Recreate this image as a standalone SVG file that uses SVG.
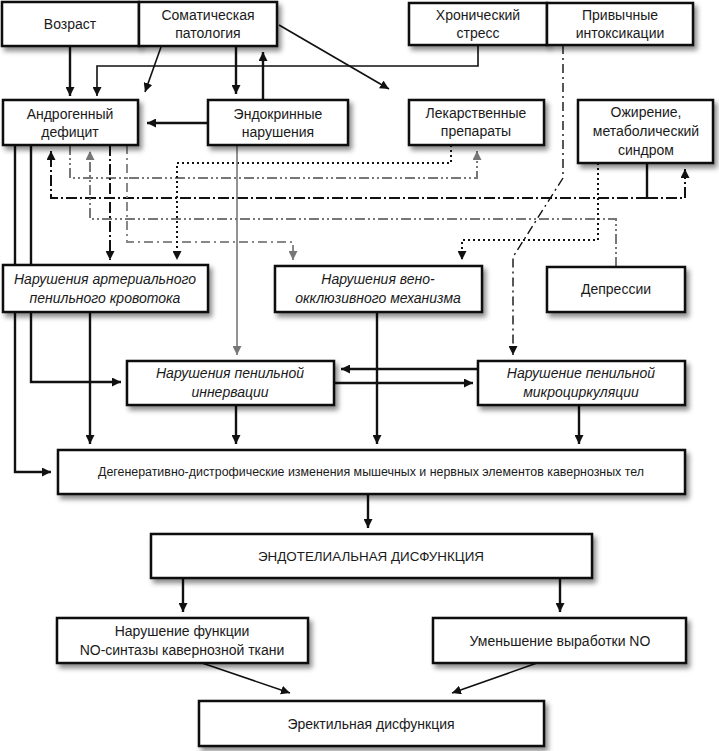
<svg xmlns="http://www.w3.org/2000/svg" width="719" height="751" viewBox="0 0 719 751">
<defs>
<style>
.box{fill:#fff;stroke:#111;stroke-width:2.5;filter:url(#sh)}
.t{font-family:"Liberation Sans","Open Sans",sans-serif;font-size:14px;fill:#1a1a1a;text-anchor:middle}
.i{font-style:italic}
.k{fill:none;stroke:#111;stroke-width:2.4}
.kt{fill:none;stroke:#111;stroke-width:1.6}
.g{fill:none;stroke:#777;stroke-width:1.6}
.dd{fill:none;stroke:#111;stroke-width:2;stroke-dasharray:11,3,2,3}
.gdd{fill:none;stroke:#777;stroke-width:2;stroke-dasharray:10,3,2,3,2,3}
.gds{fill:none;stroke:#888;stroke-width:2;stroke-dasharray:9,4,2,4}
.dot{fill:none;stroke:#111;stroke-width:2;stroke-dasharray:2,3}
.pd{fill:none;stroke:#111;stroke-width:1.4;stroke-dasharray:9,4,2,4}
</style>
<filter id="sh" x="-10%" y="-20%" width="130%" height="160%">
<feDropShadow dx="3" dy="4" stdDeviation="2.5" flood-color="#000" flood-opacity="0.45"/>
</filter>
<marker id="ab" viewBox="0 0 10 10" refX="10" refY="5" markerWidth="9" markerHeight="9" markerUnits="userSpaceOnUse" orient="auto">
<path d="M0,0 L10,5 L0,10 z" fill="#111"/>
</marker>
<marker id="ag" viewBox="0 0 10 10" refX="10" refY="5" markerWidth="9" markerHeight="9" markerUnits="userSpaceOnUse" orient="auto">
<path d="M0,0 L10,5 L0,10 z" fill="#777"/>
</marker>
</defs>
<rect width="719" height="751" fill="#fff"/>

<g id="connectors">
<!-- top -->
<path class="k" d="M70,46 V96" marker-end="url(#ab)"/>
<path class="kt" d="M478,45 V66 H97 V96" marker-end="url(#ab)"/>
<path class="kt" d="M161,47 L145,92" marker-end="url(#ab)"/>
<path class="k" d="M236,46 V94" marker-end="url(#ab)"/>
<path class="k" d="M263,100 V52" marker-end="url(#ab)"/>
<path class="kt" d="M279,25 L389,89" marker-end="url(#ab)"/>
<path class="k" d="M208,123 H147" marker-end="url(#ab)"/>
<!-- below androgen -->
<path class="k" d="M15,145 V472 H51" marker-end="url(#ab)"/>
<path class="k" d="M31,145 V382 H121" marker-end="url(#ab)"/>
<path class="k" d="M647,163 V198"/>
<path class="dd" d="M647,198 H51 V151" marker-end="url(#ab)"/>
<path class="dd" d="M647,198 H685 V169" marker-end="url(#ab)"/>
<path class="gdd" d="M70,145 V178 H477 V151" marker-end="url(#ag)"/>
<path class="gdd" d="M616,267 V219 H90 V151" marker-end="url(#ag)"/>
<path class="dd" d="M110,145 V260" marker-end="url(#ab)"/>
<path class="gds" d="M127,145 V242 H293 V260" marker-end="url(#ag)"/>
<path class="dot" d="M451,145 V163 H177 V260" marker-end="url(#ab)"/>
<path class="dot" d="M598,163 V240 H462 V260" marker-end="url(#ab)"/>
<path class="g" d="M237,145 V355" marker-end="url(#ag)"/>
<path class="pd" d="M563,45 V178 L513,257 V355" marker-end="url(#ab)"/>
<!-- middle -->
<path class="k" d="M90,312 V444" marker-end="url(#ab)"/>
<path class="k" d="M377,312 V444" marker-end="url(#ab)"/>
<path class="k" d="M236,405 V444" marker-end="url(#ab)"/>
<path class="k" d="M579,405 V444" marker-end="url(#ab)"/>
<path class="k" d="M478,369 H341" marker-end="url(#ab)"/>
<path class="k" d="M334,383 H473" marker-end="url(#ab)"/>
<!-- bottom -->
<path class="k" d="M368,494 V528" marker-end="url(#ab)"/>
<path class="k" d="M183,578 V612" marker-end="url(#ab)"/>
<path class="k" d="M560,578 V612" marker-end="url(#ab)"/>
<path class="kt" d="M202,663 L290,693" marker-end="url(#ab)"/>
<path class="kt" d="M537,663 L452,693" marker-end="url(#ab)"/>
</g>

<g id="n-age"><rect class="box" x="2" y="2" width="137" height="44"/><text class="t" x="70" y="29">Возраст</text></g>
<g id="n-somatic"><rect class="box" x="139" y="2" width="138" height="44"/><text class="t" x="208" y="20">Соматическая</text><text class="t" x="208" y="38">патология</text></g>
<g id="n-stress"><rect class="box" x="409" y="3" width="138" height="42"/><text class="t" x="478" y="20">Хронический</text><text class="t" x="478" y="38">стресс</text></g>
<g id="n-intox"><rect class="box" x="547" y="3" width="146" height="42"/><text class="t" x="620" y="20">Привычные</text><text class="t" x="620" y="38">интоксикации</text></g>
<g id="n-androgen"><rect class="box" x="3" y="100" width="135" height="45"/><text class="t" x="70" y="119">Андрогенный</text><text class="t" x="70" y="137">дефицит</text></g>
<g id="n-endocrine"><rect class="box" x="208" y="100" width="140" height="45"/><text class="t" x="278" y="119">Эндокринные</text><text class="t" x="278" y="137">нарушения</text></g>
<g id="n-drugs"><rect class="box" x="409" y="100" width="135" height="45"/><text class="t" x="476" y="118">Лекарственные</text><text class="t" x="476" y="136">препараты</text></g>
<g id="n-obesity"><rect class="box" x="578" y="100" width="135" height="63"/><text class="t" x="646" y="117">Ожирение,</text><text class="t" x="646" y="136">метаболический</text><text class="t" x="646" y="155">синдром</text></g>
<g id="n-arterial"><rect class="box" x="3" y="265" width="205" height="47"/><text class="t i" x="105" y="284">Нарушения артериального</text><text class="t i" x="105" y="303">пенильного кровотока</text></g>
<g id="n-veno"><rect class="box" x="275" y="266" width="207" height="46"/><text class="t i" x="378" y="284">Нарушения вено-</text><text class="t i" x="378" y="303">окклюзивного механизма</text></g>
<g id="n-depr"><rect class="box" x="547" y="267" width="138" height="45"/><text class="t" x="616" y="294">Депрессии</text></g>
<g id="n-innerv"><rect class="box" x="127" y="361" width="207" height="44"/><text class="t i" x="230" y="378">Нарушения пенильной</text><text class="t i" x="230" y="397">иннервации</text></g>
<g id="n-micro"><rect class="box" x="478" y="361" width="207" height="44"/><text class="t i" x="581" y="378">Нарушение пенильной</text><text class="t i" x="581" y="397">микроциркуляции</text></g>
<g id="n-degen"><rect class="box" x="58" y="450" width="627" height="44"/><text class="t" x="371" y="476" style="font-size:12px" textLength="546" lengthAdjust="spacingAndGlyphs">Дегенеративно-дистрофические изменения мышечных и нервных элементов кавернозных тел</text></g>
<g id="n-endo"><rect class="box" x="151" y="534" width="441" height="44"/><text class="t" x="371" y="561" style="font-size:13px" textLength="226" lengthAdjust="spacingAndGlyphs">ЭНДОТЕЛИАЛЬНАЯ ДИСФУНКЦИЯ</text></g>
<g id="n-nos"><rect class="box" x="57" y="618" width="251" height="45"/><text class="t" x="182" y="636">Нарушение функции</text><text class="t" x="182" y="655">NO-синтазы кавернозной ткани</text></g>
<g id="n-no"><rect class="box" x="433" y="618" width="253" height="45"/><text class="t" x="560" y="646">Уменьшение выработки NO</text></g>
<g id="n-ed"><rect class="box" x="199" y="701" width="345" height="45"/><text class="t" x="371" y="729">Эректильная дисфункция</text></g>
</svg>
